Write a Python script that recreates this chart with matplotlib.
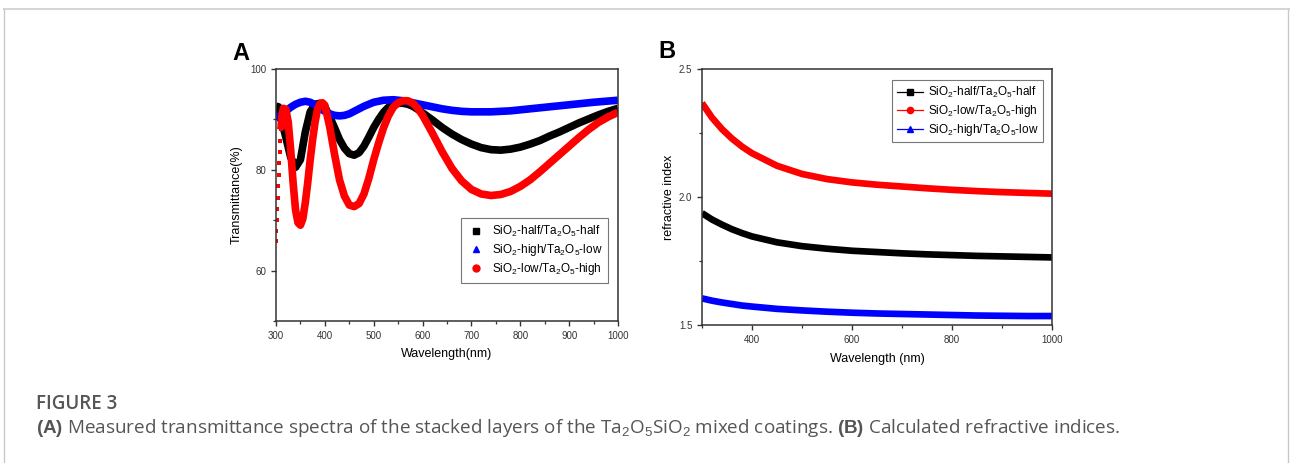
import numpy as np
import matplotlib
matplotlib.use("Agg")
import matplotlib.pyplot as plt
from matplotlib.lines import Line2D
from matplotlib.ticker import FixedLocator

plt.rcParams['font.family'] = ['Liberation Sans', 'DejaVu Sans']
plt.rcParams['mathtext.fontset'] = 'custom'
plt.rcParams['mathtext.rm'] = 'Liberation Sans'
plt.rcParams['mathtext.bf'] = 'Liberation Sans:bold'

# Panel A: transmittance spectra
wl_half = [300, 305, 310, 320, 330, 340, 350, 360, 370, 380, 390, 400, 410, 420, 430,
           440, 450, 460, 470, 480, 490, 500, 510, 520, 530, 540, 550, 560, 570, 580,
           590, 600, 620, 640, 660, 680, 700, 720, 740, 760, 780, 800, 820, 840, 860,
           880, 900, 920, 940, 960, 980, 1000]
t_half = [92.6, 92.5, 90.3, 86.5, 82.5, 80.5, 82.0, 87.5, 91.5, 93.0, 93.2, 92.5, 90.5,
          88.3, 86.0, 84.3, 83.2, 82.9, 83.4, 84.7, 86.5, 88.4, 90.0, 91.4, 92.4, 93.0,
          93.2, 93.2, 93.0, 92.6, 92.0, 91.3, 89.9, 88.4, 87.1, 86.0, 85.1, 84.4, 84.0,
          83.9, 84.1, 84.5, 85.1, 85.8, 86.7, 87.5, 88.4, 89.3, 90.1, 90.9, 91.6, 92.2]

wl_high = [300, 310, 320, 330, 340, 350, 360, 370, 380, 390, 400, 410, 420, 430, 440,
           450, 460, 470, 480, 490, 500, 520, 540, 560, 580, 600, 620, 640, 660, 680,
           700, 720, 740, 760, 780, 800, 850, 900, 950, 1000]
t_high = [90.0, 90.8, 91.6, 92.4, 93.0, 93.4, 93.6, 93.4, 92.9, 92.2, 91.6, 91.1, 90.8,
          90.7, 90.8, 91.1, 91.6, 92.1, 92.6, 93.0, 93.4, 93.8, 93.9, 93.7, 93.3, 92.9,
          92.5, 92.1, 91.8, 91.6, 91.5, 91.5, 91.5, 91.6, 91.7, 91.9, 92.4, 92.9, 93.4,
          93.8]

wl_low = [300, 301, 302, 303, 304, 305, 306, 307, 308, 309, 310, 312, 315, 320, 325,
          330, 335, 340, 345, 350, 355, 360, 365, 370, 375, 380, 385, 390, 395, 400,
          410, 420, 430, 440, 450, 460, 470, 480, 490, 500, 510, 520, 530, 540, 550,
          560, 570, 580, 590, 600, 620, 640, 660, 680, 700, 720, 740, 760, 780, 800,
          820, 840, 860, 880, 900, 920, 940, 960, 980, 1000]
t_low = [65.8, 67.8, 70.0, 72.3, 74.5, 76.8, 79.0, 81.3, 83.5, 85.8, 88.0, 90.5, 92.2,
         92.0, 89.5, 84.0, 77.5, 72.0, 69.5, 69.0, 70.3, 73.5, 77.5, 82.0, 86.0, 89.5,
         92.0, 93.1, 93.3, 92.8, 88.5, 83.0, 78.0, 74.8, 73.0, 72.7, 73.3, 75.2, 78.3,
         82.0, 85.3, 88.3, 90.7, 92.4, 93.3, 93.7, 93.7, 93.2, 92.2, 90.8, 87.3, 83.6,
         80.3, 77.8, 76.1, 75.2, 74.9, 75.1, 75.7, 76.7, 78.0, 79.6, 81.3, 83.0, 84.7,
         86.4, 88.0, 89.4, 90.5, 91.4]
n_steep = 11  # die ersten Punkte der roten Kurve stehen einzeln

# Panel B: refractive index
wl_n = [300, 320, 340, 360, 380, 400, 450, 500, 550, 600, 650, 700, 750, 800, 850, 900,
        950, 1000]
n_half = [1.937, 1.912, 1.892, 1.874, 1.859, 1.846, 1.823, 1.808, 1.798, 1.790, 1.785,
          1.780, 1.776, 1.773, 1.770, 1.768, 1.766, 1.764]
n_low = [2.367, 2.310, 2.265, 2.228, 2.197, 2.171, 2.122, 2.090, 2.070, 2.057, 2.048,
         2.041, 2.034, 2.028, 2.023, 2.019, 2.016, 2.013]
n_high = [1.604, 1.595, 1.588, 1.582, 1.576, 1.572, 1.563, 1.557, 1.552, 1.548, 1.545,
          1.543, 1.541, 1.539, 1.537, 1.536, 1.535, 1.535]

lab_half = 'SiO$_2$-half/Ta$_2$O$_5$-half'
lab_high = 'SiO$_2$-high/Ta$_2$O$_5$-low'
lab_low = 'SiO$_2$-low/Ta$_2$O$_5$-high'

BLACK, RED, BLUE = '#000000', '#ff0000', '#0000ff'

fig = plt.figure(figsize=(12.9, 4.63), dpi=100)

# Rahmen
fig.add_artist(Line2D([4 / 1290, 1289 / 1290], [1 - 9 / 463] * 2, color='#d6d6d6', lw=1.5))
fig.add_artist(Line2D([4 / 1290] * 2, [0, 1 - 9 / 463], color='#c8c8c8', lw=1.0))
fig.add_artist(Line2D([1288 / 1290] * 2, [0, 1 - 9 / 463], color='#c8c8c8', lw=1.0))


def style_axes(ax):
    for s in ax.spines.values():
        s.set_linewidth(1.1)
        s.set_color('#333333')
    ax.tick_params(which='major', direction='out', length=3.5, width=1, labelsize=7,
                   colors='#333333', top=False, right=False)
    ax.tick_params(which='minor', direction='out', length=2, width=0.9,
                   colors='#333333', top=False, right=False)


# ---- A ----
axA = fig.add_axes([276 / 1290, 1 - 321 / 463, 342 / 1290, 252 / 463])
axA.plot(wl_half, t_half, color=BLACK, lw=5.5, solid_capstyle='butt')
axA.plot(wl_high, t_high, color=BLUE, lw=5.5, solid_capstyle='butt')
axA.plot(wl_low[:n_steep], t_low[:n_steep], 's', color=RED, ms=3.5, mew=0)
axA.plot(wl_low[n_steep - 1:], t_low[n_steep - 1:], color=RED, lw=5.5, solid_capstyle='butt')
axA.set_xlim(300, 1000)
axA.set_ylim(50, 100)
axA.xaxis.set_major_locator(FixedLocator([300, 400, 500, 600, 700, 800, 900, 1000]))
axA.xaxis.set_minor_locator(FixedLocator([350, 450, 550, 650, 750, 850, 950]))
axA.yaxis.set_major_locator(FixedLocator([60, 80, 100]))
axA.yaxis.set_minor_locator(FixedLocator([50, 70, 90]))
style_axes(axA)
axA.set_xlabel('Wavelength(nm)', fontsize=9)
axA.set_ylabel('Transmittance(%)', fontsize=9)
axA.xaxis.set_label_coords(0.5, -0.107)
axA.yaxis.set_label_coords(-0.097, 0.5)
handlesA = [Line2D([], [], ls='none', marker='s', color=BLACK, ms=5),
            Line2D([], [], ls='none', marker='^', color=BLUE, ms=5),
            Line2D([], [], ls='none', marker='o', color=RED, ms=5)]
legA = axA.legend(handlesA, [lab_half, lab_high, lab_low], loc='lower right',
                  bbox_to_anchor=(0.971, 0.151), borderaxespad=0, fontsize=8.5,
                  frameon=True, fancybox=False, edgecolor='#555555', handlelength=1.5,
                  handletextpad=0.6, labelspacing=0.25, borderpad=0.5)
legA.get_frame().set_linewidth(0.8)

# ---- B ----
axB = fig.add_axes([702 / 1290, 1 - 325 / 463, 350 / 1290, 256 / 463])
axB.plot(wl_n, n_half, color=BLACK, lw=4.8, solid_capstyle='butt')
axB.plot(wl_n, n_low, color=RED, lw=4.8, solid_capstyle='butt')
axB.plot(wl_n, n_high, color=BLUE, lw=4.8, solid_capstyle='butt')
axB.set_xlim(300, 1000)
axB.set_ylim(1.5, 2.5)
axB.xaxis.set_major_locator(FixedLocator([400, 600, 800, 1000]))
axB.xaxis.set_minor_locator(FixedLocator([300, 500, 700, 900]))
axB.yaxis.set_major_locator(FixedLocator([1.5, 2.0, 2.5]))
axB.yaxis.set_minor_locator(FixedLocator([1.75, 2.25]))
axB.set_yticklabels(['1.5', '2.0', '2.5'])
style_axes(axB)
axB.set_xlabel('Wavelength (nm)', fontsize=9)
axB.set_ylabel('refractive index', fontsize=9)
axB.xaxis.set_label_coords(0.5, -0.108)
axB.yaxis.set_label_coords(-0.078, 0.5)
handlesB = [Line2D([], [], color=BLACK, lw=0.9, marker='s', ms=4.5),
            Line2D([], [], color=RED, lw=0.9, marker='o', ms=4.5),
            Line2D([], [], color=BLUE, lw=0.9, marker='^', ms=4.5)]
legB = axB.legend(handlesB, [lab_half, lab_low, lab_high], loc='upper right',
                  bbox_to_anchor=(0.974, 0.957), borderaxespad=0, fontsize=8.5,
                  frameon=True, fancybox=False, edgecolor='#555555', handlelength=2.2,
                  handletextpad=0.4, labelspacing=0.25, borderpad=0.4)
legB.get_frame().set_linewidth(0.8)

# Buchstaben
fig.text(241 / 1290, 1 - 53 / 463, 'A', fontsize=17, fontweight='bold', ha='center', va='center')
fig.text(667 / 1290, 1 - 51 / 463, 'B', fontsize=17, fontweight='bold', ha='center', va='center')

# Bildunterschrift
cap_color = '#555555'
fig.text(36 / 1290, 1 - 409 / 463, 'FIGURE 3', fontsize=13.5, family='Open Sans',
         fontweight='semibold', color=cap_color, va='baseline')
fig.text(36 / 1290, 1 - 433 / 463,
         r'$\mathbf{(A)}$ Measured transmittance spectra of the stacked layers of the '
         r'Ta$_2$O$_5$SiO$_2$ mixed coatings. $\mathbf{(B)}$ Calculated refractive indices.',
         fontsize=13.6, family='Open Sans', color=cap_color, va='baseline',
         math_fontfamily='custom')

fig.savefig('out.png', dpi=100)
